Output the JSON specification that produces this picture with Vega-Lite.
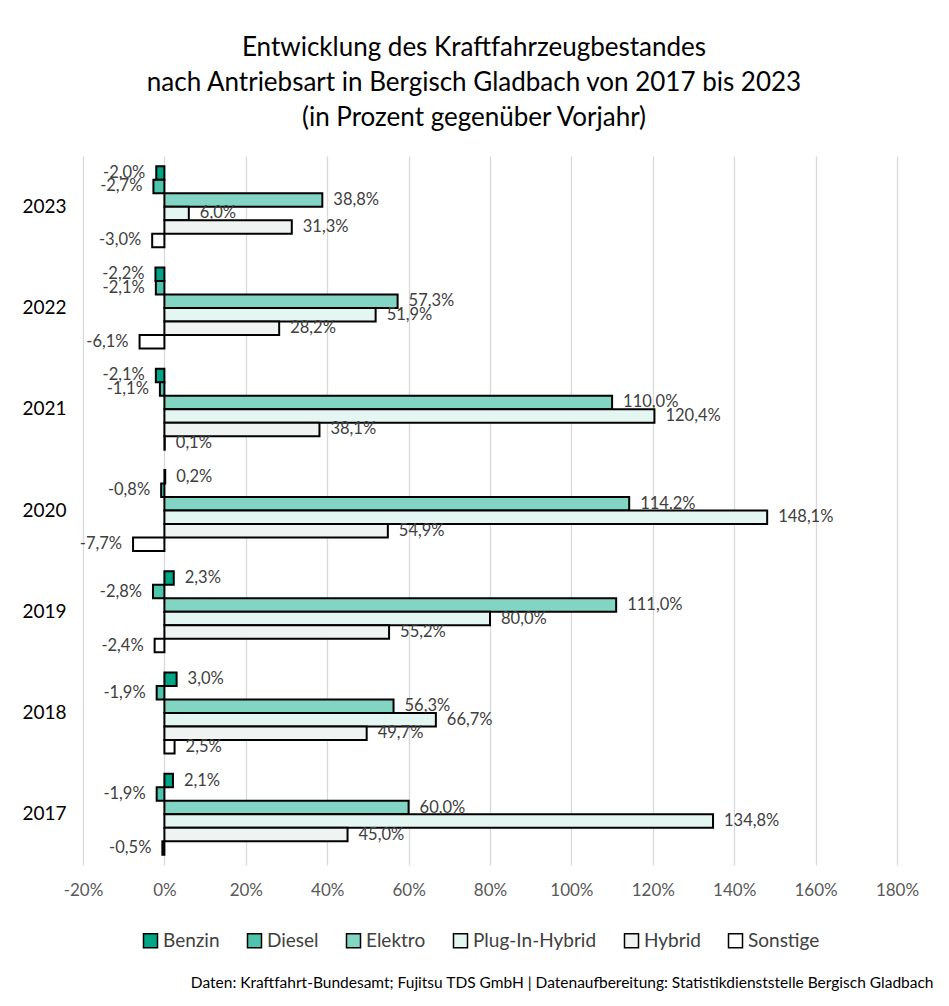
{
  "$schema": "https://vega.github.io/schema/vega-lite/v6.json",
  "width": 814,
  "height": 709,
  "autosize": {"type": "none"},
  "padding": {"left": 83, "top": 156, "right": 52, "bottom": 141},
  "background": "white",
  "config": {
    "font": "Lato",
    "locale": {
      "number": {"decimal": ",", "thousands": ".", "grouping": [3], "currency": ["", " €"], "minus": "-", "percent": "%"}
    },
    "view": {"stroke": null}
  },
  "title": {
    "text": ["Entwicklung des Kraftfahrzeugbestandes", "nach Antriebsart in Bergisch Gladbach von 2017 bis 2023", "(in Prozent gegenüber Vorjahr)"],
    "fontSize": 26,
    "fontWeight": "normal",
    "color": "black",
    "lineHeight": 35,
    "anchor": "middle",
    "frame": "group",
    "dx": -16,
    "offset": 25
  },
  "data": {
    "values": [
      {"Jahr": "2023", "Antriebsart": "Benzin", "Wert": -0.020},
      {"Jahr": "2023", "Antriebsart": "Diesel", "Wert": -0.027},
      {"Jahr": "2023", "Antriebsart": "Elektro", "Wert": 0.388},
      {"Jahr": "2023", "Antriebsart": "Plug-In-Hybrid", "Wert": 0.060},
      {"Jahr": "2023", "Antriebsart": "Hybrid", "Wert": 0.313},
      {"Jahr": "2023", "Antriebsart": "Sonstige", "Wert": -0.030},
      {"Jahr": "2022", "Antriebsart": "Benzin", "Wert": -0.022},
      {"Jahr": "2022", "Antriebsart": "Diesel", "Wert": -0.021},
      {"Jahr": "2022", "Antriebsart": "Elektro", "Wert": 0.573},
      {"Jahr": "2022", "Antriebsart": "Plug-In-Hybrid", "Wert": 0.519},
      {"Jahr": "2022", "Antriebsart": "Hybrid", "Wert": 0.282},
      {"Jahr": "2022", "Antriebsart": "Sonstige", "Wert": -0.061},
      {"Jahr": "2021", "Antriebsart": "Benzin", "Wert": -0.021},
      {"Jahr": "2021", "Antriebsart": "Diesel", "Wert": -0.011},
      {"Jahr": "2021", "Antriebsart": "Elektro", "Wert": 1.100},
      {"Jahr": "2021", "Antriebsart": "Plug-In-Hybrid", "Wert": 1.204},
      {"Jahr": "2021", "Antriebsart": "Hybrid", "Wert": 0.381},
      {"Jahr": "2021", "Antriebsart": "Sonstige", "Wert": 0.001},
      {"Jahr": "2020", "Antriebsart": "Benzin", "Wert": 0.002},
      {"Jahr": "2020", "Antriebsart": "Diesel", "Wert": -0.008},
      {"Jahr": "2020", "Antriebsart": "Elektro", "Wert": 1.142},
      {"Jahr": "2020", "Antriebsart": "Plug-In-Hybrid", "Wert": 1.481},
      {"Jahr": "2020", "Antriebsart": "Hybrid", "Wert": 0.549},
      {"Jahr": "2020", "Antriebsart": "Sonstige", "Wert": -0.077},
      {"Jahr": "2019", "Antriebsart": "Benzin", "Wert": 0.023},
      {"Jahr": "2019", "Antriebsart": "Diesel", "Wert": -0.028},
      {"Jahr": "2019", "Antriebsart": "Elektro", "Wert": 1.110},
      {"Jahr": "2019", "Antriebsart": "Plug-In-Hybrid", "Wert": 0.800},
      {"Jahr": "2019", "Antriebsart": "Hybrid", "Wert": 0.552},
      {"Jahr": "2019", "Antriebsart": "Sonstige", "Wert": -0.024},
      {"Jahr": "2018", "Antriebsart": "Benzin", "Wert": 0.030},
      {"Jahr": "2018", "Antriebsart": "Diesel", "Wert": -0.019},
      {"Jahr": "2018", "Antriebsart": "Elektro", "Wert": 0.563},
      {"Jahr": "2018", "Antriebsart": "Plug-In-Hybrid", "Wert": 0.667},
      {"Jahr": "2018", "Antriebsart": "Hybrid", "Wert": 0.497},
      {"Jahr": "2018", "Antriebsart": "Sonstige", "Wert": 0.025},
      {"Jahr": "2017", "Antriebsart": "Benzin", "Wert": 0.021},
      {"Jahr": "2017", "Antriebsart": "Diesel", "Wert": -0.019},
      {"Jahr": "2017", "Antriebsart": "Elektro", "Wert": 0.600},
      {"Jahr": "2017", "Antriebsart": "Plug-In-Hybrid", "Wert": 1.348},
      {"Jahr": "2017", "Antriebsart": "Hybrid", "Wert": 0.450},
      {"Jahr": "2017", "Antriebsart": "Sonstige", "Wert": -0.005}
    ]
  },
  "encoding": {
    "y": {
      "field": "Jahr",
      "type": "nominal",
      "sort": "descending",
      "scale": {"paddingInner": 0.2, "paddingOuter": 0.1},
      "axis": {"title": null, "domain": false, "ticks": false, "labelFontSize": 19, "labelColor": "black", "labelPadding": 17}
    },
    "yOffset": {
      "field": "Antriebsart",
      "type": "nominal",
      "sort": ["Benzin", "Diesel", "Elektro", "Plug-In-Hybrid", "Hybrid", "Sonstige"],
      "scale": {"paddingInner": 0, "paddingOuter": 0}
    },
    "x": {
      "field": "Wert",
      "type": "quantitative",
      "stack": null,
      "scale": {"domain": [-0.2, 1.8], "nice": false, "zero": false},
      "axis": {
        "title": "Daten: Kraftfahrt-Bundesamt; Fujitsu TDS GmbH | Datenaufbereitung: Statistikdienststelle Bergisch Gladbach",
        "titleX": 850,
        "titleY": 110,
        "titleAlign": "right",
        "titleFontSize": 15.5,
        "titleFontWeight": "normal",
        "titleColor": "black",
        "values": [-0.2, 0, 0.2, 0.4, 0.6, 0.8, 1.0, 1.2, 1.4, 1.6, 1.8],
        "format": ".0%",
        "domain": false,
        "ticks": false,
        "labelFlush": false,
        "labelFontSize": 17,
        "labelColor": "#595959",
        "labelPadding": 17,
        "grid": true,
        "gridColor": "#D9D9D9",
        "gridWidth": 1.3
      }
    }
  },
  "layer": [
    {
      "mark": {"type": "bar", "stroke": "black", "strokeWidth": 2},
      "encoding": {
        "color": {
          "field": "Antriebsart",
          "type": "nominal",
          "scale": {
            "domain": ["Benzin", "Diesel", "Elektro", "Plug-In-Hybrid", "Hybrid", "Sonstige"],
            "range": ["#00A586", "#4EC4AC", "#82D5C3", "#E4F6F1", "#EFF3F1", "#FFFFFF"]
          },
          "legend": {
            "orient": "none",
            "legendX": 58,
            "legendY": 775,
            "direction": "horizontal",
            "title": null,
            "symbolType": "square",
            "symbolSize": 196,
            "symbolStrokeColor": "black",
            "symbolStrokeWidth": 1.5,
            "symbolOpacity": 1,
            "labelFontSize": 19,
            "labelColor": "#404040",
            "labelOffset": 3,
            "columnPadding": 24
          }
        }
      }
    },
    {
      "transform": [{"filter": "datum.Wert >= 0"}],
      "mark": {"type": "text", "align": "left", "baseline": "middle", "dx": 11, "fontSize": 16.5, "color": "#404040"},
      "encoding": {"text": {"field": "Wert", "type": "quantitative", "format": ".1%"}}
    },
    {
      "transform": [{"filter": "datum.Wert < 0"}],
      "mark": {"type": "text", "align": "right", "baseline": "middle", "dx": -11, "fontSize": 16.5, "color": "#404040"},
      "encoding": {"text": {"field": "Wert", "type": "quantitative", "format": ".1%"}}
    }
  ]
}
